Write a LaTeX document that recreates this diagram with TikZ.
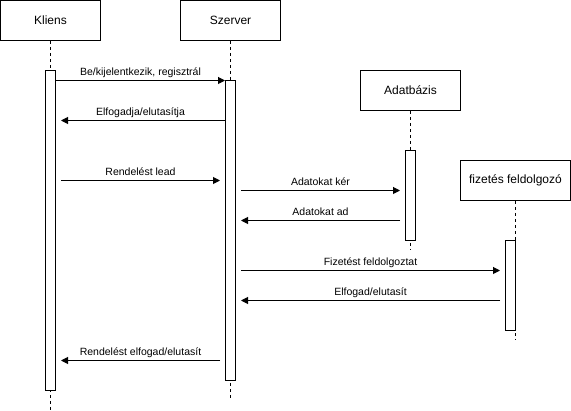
\documentclass[tikz,border=0pt]{standalone}
\usepackage{fontspec}
\setmainfont{Liberation Sans}
\usetikzlibrary{shapes,arrows.meta}

\begin{document}
\begin{tikzpicture}[x=1pt, y=-1pt, line width=1pt]
		\tikzstyle{actor}=[draw, rectangle, minimum width=100pt, minimum height=40pt, inner sep=0pt, font=\fontsize{12}{14}\selectfont];
		\tikzstyle{life}=[dash pattern=on 3pt off 3pt];
		\tikzstyle{active}=[draw, fill=white, rectangle, minimum width=10pt, inner sep=0pt];
		\tikzstyle{msg}=[-{Triangle[length=7pt, width=7pt]}];
		\tikzstyle{lbl}=[above, inner sep=2pt, text height=8pt, text depth=2.5pt, font=\fontsize{10.5}{12}\selectfont];
		\useasboundingbox (-0.5, -0.5) rectangle (570.5, 410.5);
		\node[actor] (kliens) at (50, 20) {Kliens};
		\node[actor] (szerver) at (230, 20) {Szerver};
		\node[actor] (adatbazis) at (410, 90) {Adatbázis};
		\node[actor, minimum width=110pt] (fizetes) at (515, 180) {fizetés feldolgozó};
		\coordinate (kliensend) at (50, 411);
		\coordinate (szerverend) at (230, 398);
		\coordinate (adatbazisend) at (410, 250);
		\coordinate (fizetesend) at (515, 340);
		\draw[life] (kliens.south) -- (kliensend);
		\draw[life] (szerver.south) -- (szerverend);
		\draw[life] (adatbazis.south) -- (adatbazisend);
		\draw[life] (fizetes.south) -- (fizetesend);
		\node[active, minimum height=320pt] (kliensact) at (50, 230) {};
		\node[active, minimum height=300pt] (szerveract) at (230, 230) {};
		\node[active, minimum height=90pt] (adatbazisact) at (410, 195) {};
		\node[active, minimum height=90pt] (fizetesact) at (510, 285) {};
		\draw[msg] (kliensact.east |- 0,80) -- node[lbl] {Be/kijelentkezik, regisztrál} (szerveract.west |- 0,80);
		\draw[msg, shorten >=5pt] (szerveract.west |- 0,120) -- node[lbl] {Elfogadja/elutasítja} (kliensact.east |- 0,120);
		\draw[msg, shorten <=5pt, shorten >=5pt] (kliensact.east |- 0,180) -- node[lbl] {Rendelést lead} (szerveract.west |- 0,180);
		\draw[msg, shorten <=5pt, shorten >=5pt] (szerveract.east |- 0,190) -- node[lbl] {Adatokat kér} (adatbazisact.west |- 0,190);
		\draw[msg, shorten <=5pt, shorten >=5pt] (adatbazisact.west |- 0,220) -- node[lbl] {Adatokat ad} (szerveract.east |- 0,220);
		\draw[msg, shorten <=5pt, shorten >=5pt] (szerveract.east |- 0,270) -- node[lbl] {Fizetést feldolgoztat} (fizetesact.west |- 0,270);
		\draw[msg, shorten <=5pt, shorten >=5pt] (fizetesact.west |- 0,300) -- node[lbl] {Elfogad/elutasít} (szerveract.east |- 0,300);
		\draw[msg, shorten <=5pt, shorten >=5pt] (szerveract.west |- 0,360) -- node[lbl] {Rendelést elfogad/elutasít} (kliensact.east |- 0,360);
	\end{tikzpicture}
\end{document}
